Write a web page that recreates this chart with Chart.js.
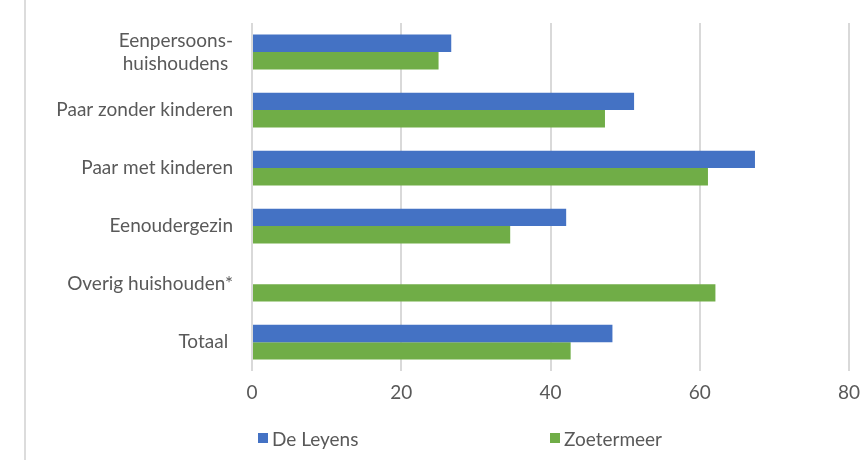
<!DOCTYPE html>
<html>
<head>
<meta charset="utf-8">
<script src="https://cdn.jsdelivr.net/npm/chart.js@4"></script>
<style>
  body { margin: 0; background: #fff; font-family: Lato, "Open Sans", sans-serif; }
  #wrap { position: relative; width: 861px; height: 460px; }
  #edge { position: absolute; left: 24px; top: 0; width: 2px; height: 460px; background: #dcdcdc; }
  #legend { position: absolute; top: 426px; left: 0; width: 861px; height: 24px; }
  .item { position: absolute; top: 0; display: flex; align-items: center; height: 24px;
          font-size: 19px; color: #595959; }
  .box { display: inline-block; width: 10px; height: 10px; margin-right: 4px; }
</style>
</head>
<body>
<div id="wrap">
  <div id="edge"></div>
  <canvas id="chart" width="861" height="460"></canvas>
  <div id="legend"></div>
</div>
<script>
// categories + series
const categories = [
   ['Eenpersoons-', 'huishoudens '],
   'Paar zonder kinderen',
   'Paar met kinderen',
   'Eenoudergezin',
   'Overig huishouden*',
   'Totaal '
];
const deLeyens   = [26.7, 51.2, 67.4, 42.1, null, 48.3];
const zoetermeer = [25.0, 47.3, 61.1, 34.6, 62.1, 42.7];
const xTicks = [0, 20, 40, 60, 80];
const legendX = [258, 550];

Chart.defaults.font.family = 'Lato, "Open Sans", sans-serif';
Chart.defaults.color = '#595959';

const chart = new Chart(document.getElementById('chart').getContext('2d'), {
   type: 'bar',
   data: {
      labels: categories,
      datasets: [
         {
            label: 'De Leyens',
            data: deLeyens,
            backgroundColor: '#4472C4',
            categoryPercentage: 0.6,
            barPercentage: 1.0
         },
         {
            label: 'Zoetermeer',
            data: zoetermeer,
            backgroundColor: '#70AD47',
            categoryPercentage: 0.6,
            barPercentage: 1.0
         }
      ]
   },
   options: {
      indexAxis: 'y',
      responsive: false,
      animation: false,
      layout: { padding: { left: 30, right: 12, top: 23, bottom: 46 } },
      plugins: {
         legend: { display: false },
         tooltip: { enabled: false }
      },
      scales: {
         x: {
            min: 0,
            max: 80,
            afterBuildTicks: (s) => { s.ticks = xTicks.map(v => ({ value: v })); },
            afterFit: (s) => { s.paddingLeft = 0; s.paddingRight = 0; },
            grid: { color: '#d9d9d9', lineWidth: 2, drawTicks: false },
            border: { display: false },
            ticks: { font: { size: 19 }, padding: 10 }
         },
         y: {
            grid: { display: false, drawTicks: false },
            border: { display: false },
            afterFit: (s) => { s.width = 222; s.paddingTop = 0; s.paddingBottom = 0; },
            ticks: { font: { size: 19 }, padding: 19 }
         }
      }
   }
});

// legend built from the datasets
const legendEl = document.getElementById('legend');
chart.data.datasets.forEach((ds, i) => {
   const item = document.createElement('div');
   item.className = 'item';
   item.style.left = legendX[i] + 'px';
   item.innerHTML = '<span class="box" style="background:' + ds.backgroundColor + '"></span>' + ds.label;
   legendEl.appendChild(item);
});
</script>
</body>
</html>
